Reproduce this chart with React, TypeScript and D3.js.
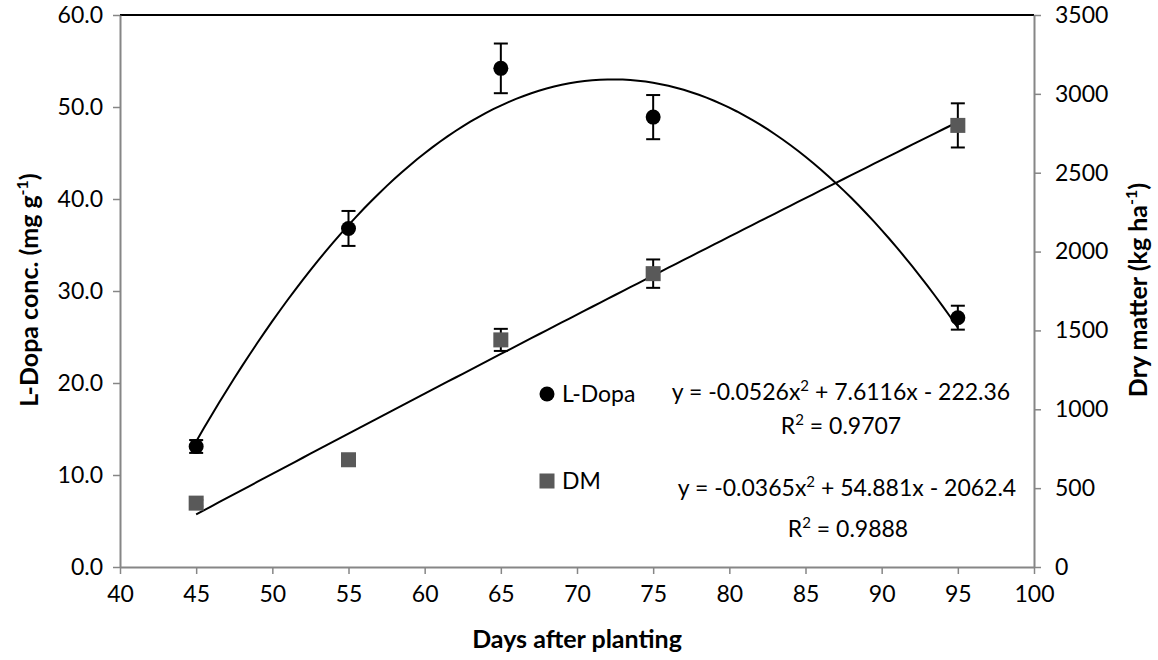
import React, { useEffect, useRef } from "react";
import * as d3 from "d3";

// data
const days = [45, 55, 65, 75, 95];
const ldopa = [13.1, 36.8, 54.2, 48.9, 27.1];
const ldopaErr = [0.7, 1.9, 2.7, 2.4, 1.3];
const dryMatter = [405, 680, 1440, 1860, 2800];
const dmErr = [20, 20, 70, 90, 140];

// trendline coefficients (a, b, c) as printed on the chart
const ldopaFit = [-0.0526, 7.6116, -222.36];
const dmFit = [-0.0365, 54.881, -2062.4];

const xTicks = [40, 45, 50, 55, 60, 65, 70, 75, 80, 85, 90, 95, 100];
const leftTicks = [0, 10, 20, 30, 40, 50, 60];
const rightTicks = [0, 500, 1000, 1500, 2000, 2500, 3000, 3500];

const FONT = "Lato, 'Open Sans', sans-serif";

const App = () => {
  const svgRef = useRef(null);

  const width = 1158;
  const height = 660;
  const margin = { top: 15, right: 124, bottom: 93, left: 120 };

  useEffect(() => {
    const svg = d3.select(svgRef.current);
    svg.selectAll("*").remove();

    const x = d3.scaleLinear().domain([40, 100]).range([margin.left, width - margin.right]);
    const yL = d3.scaleLinear().domain([0, 60]).range([height - margin.bottom, margin.top]);
    const yR = d3.scaleLinear().domain([0, 3500]).range([height - margin.bottom, margin.top]);

    const axisColor = "#868686";

    // top border
    svg.append("line")
      .attr("x1", x(40)).attr("x2", x(100))
      .attr("y1", yL(60)).attr("y2", yL(60))
      .attr("stroke", "#000").attr("stroke-width", 2);

    // AXES
    const styleAxis = (g) => {
      g.select(".domain").attr("stroke", axisColor).attr("stroke-width", 2);
      g.selectAll(".tick line").attr("stroke", axisColor).attr("stroke-width", 1.5);
      g.selectAll(".tick text")
        .attr("fill", "#000")
        .style("font-family", FONT)
        .style("font-size", "23px");
    };

    svg.append("g")
      .attr("transform", `translate(0,${yL(0)})`)
      .call(d3.axisBottom(x).tickValues(xTicks).tickSize(7).tickSizeOuter(0).tickPadding(12))
      .call(styleAxis);

    svg.append("g")
      .attr("transform", `translate(${x(40)},0)`)
      .call(d3.axisLeft(yL).tickValues(leftTicks).tickFormat(d3.format(".1f")).tickSize(7).tickSizeOuter(0).tickPadding(10))
      .call(styleAxis);

    svg.append("g")
      .attr("transform", `translate(${x(100)},0)`)
      .call(d3.axisRight(yR).tickValues(rightTicks).tickFormat(d3.format("d")).tickSize(7).tickSizeOuter(0).tickPadding(14))
      .call(styleAxis);

    // TRENDLINES
    const xs = d3.range(45, 95.01, 0.5);
    const quad = (c, v) => c[0] * v * v + c[1] * v + c[2];

    svg.append("path")
      .datum(xs)
      .attr("fill", "none").attr("stroke", "#000").attr("stroke-width", 2)
      .attr("d", d3.line().x(d => x(d)).y(d => yL(quad(ldopaFit, d))));

    svg.append("path")
      .datum(xs)
      .attr("fill", "none").attr("stroke", "#000").attr("stroke-width", 2)
      .attr("d", d3.line().x(d => x(d)).y(d => yR(quad(dmFit, d))));

    // ERROR BARS
    const errBars = (vals, errs, scale) => {
      const g = svg.append("g").attr("stroke", "#000").attr("stroke-width", 2);
      days.forEach((d, i) => {
        const cx = x(d);
        const top = scale(vals[i] + errs[i]);
        const bot = scale(vals[i] - errs[i]);
        g.append("line").attr("x1", cx).attr("x2", cx).attr("y1", top).attr("y2", bot);
        g.append("line").attr("x1", cx - 7).attr("x2", cx + 7).attr("y1", top).attr("y2", top);
        g.append("line").attr("x1", cx - 7).attr("x2", cx + 7).attr("y1", bot).attr("y2", bot);
      });
    };
    errBars(dryMatter, dmErr, yR);
    errBars(ldopa, ldopaErr, yL);

    // MARKERS
    svg.selectAll(".dm")
      .data(days)
      .join("rect")
      .attr("class", "dm")
      .attr("x", d => x(d) - 7.5)
      .attr("y", (d, i) => yR(dryMatter[i]) - 7.5)
      .attr("width", 15).attr("height", 15)
      .attr("fill", "#595959");

    svg.selectAll(".ld")
      .data(days)
      .join("circle")
      .attr("class", "ld")
      .attr("cx", d => x(d))
      .attr("cy", (d, i) => yL(ldopa[i]))
      .attr("r", 7.5)
      .attr("fill", "#000");

    // LEGEND
    const leg = svg.append("g").style("font-family", FONT).style("font-size", "23px");
    leg.append("circle").attr("cx", 547).attr("cy", 394).attr("r", 7.5).attr("fill", "#000");
    leg.append("text").attr("x", 562).attr("y", 402).text("L-Dopa");
    leg.append("rect").attr("x", 539.5).attr("y", 473.5).attr("width", 15).attr("height", 15).attr("fill", "#595959");
    leg.append("text").attr("x", 562).attr("y", 489).text("DM");

    // EQUATIONS (before ^2, superscript, after)
    const eq = svg.append("g")
      .style("font-family", FONT).style("font-size", "23px")
      .attr("text-anchor", "middle");
    const supText = (tx, ty, before, after) => {
      const t = eq.append("text").attr("x", tx).attr("y", ty);
      t.append("tspan").text(before);
      t.append("tspan").attr("dy", -9).style("font-size", "15px").text("2");
      t.append("tspan").attr("dy", 9).text(after);
    };
    supText(841, 400, "y = -0.0526x", " + 7.6116x - 222.36");
    supText(841, 434, "R", " = 0.9707");
    supText(847, 496, "y = -0.0365x", " + 54.881x - 2062.4");
    supText(848, 537, "R", " = 0.9888");

    // AXIS TITLES
    const title = (tx, ty, rot) =>
      svg.append("text")
        .attr("transform", `translate(${tx},${ty}) rotate(${rot})`)
        .attr("text-anchor", "middle")
        .style("font-family", FONT).style("font-size", "25px").style("font-weight", "bold");

    title(577, 648, 0).text("Days after planting");

    const tl = title(38, 290, -90);
    tl.append("tspan").text("L-Dopa conc. (mg g");
    tl.append("tspan").attr("dy", -10).style("font-size", "16px").text("-1");
    tl.append("tspan").attr("dy", 10).text(")");

    const tr = title(1147, 290, -90);
    tr.append("tspan").text("Dry matter (kg ha");
    tr.append("tspan").attr("dy", -10).style("font-size", "16px").text("-1");
    tr.append("tspan").attr("dy", 10).text(")");
  }, []);

  return (
    <React.Fragment>
      <svg
        ref={svgRef}
        width={width}
        height={height}
        style={{ position: "absolute", left: 0, top: 0, background: "#fff" }}
      />
    </React.Fragment>
  );
};

export default App;
